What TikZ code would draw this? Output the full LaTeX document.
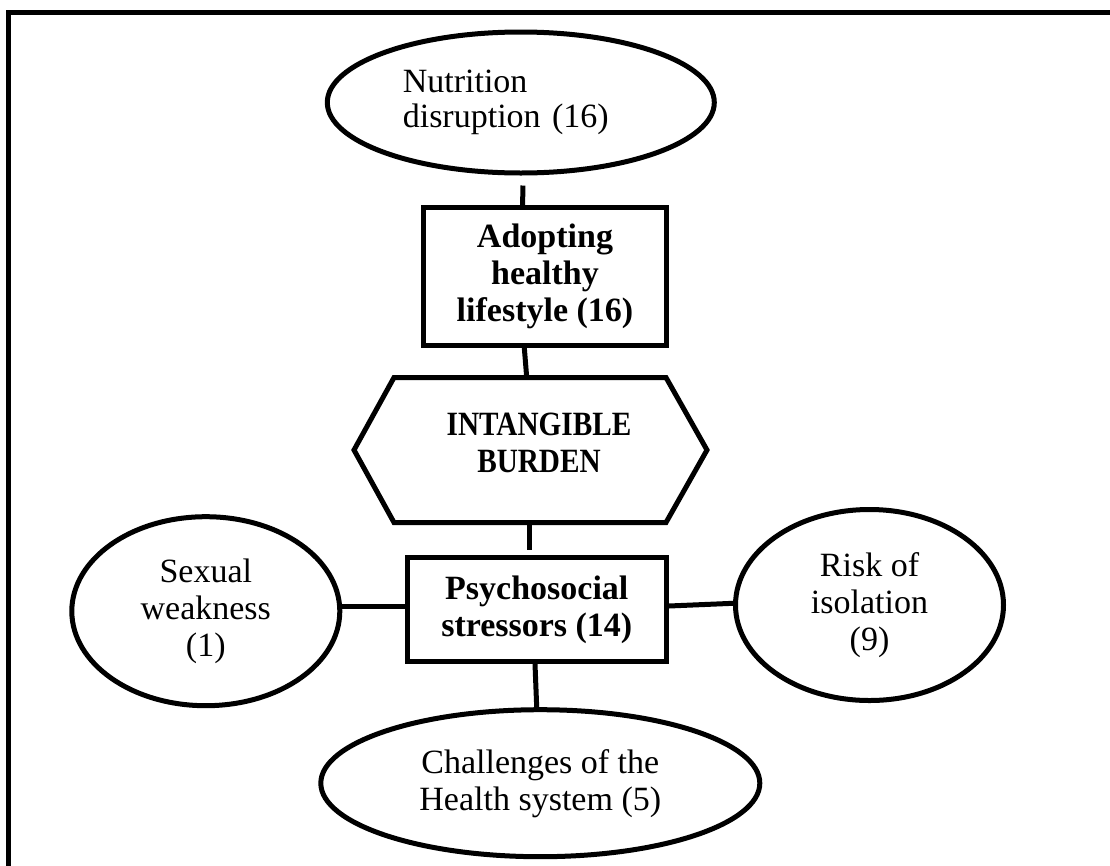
\documentclass[tikz,border=0pt]{standalone}
\usepackage{fontspec}
\setmainfont{Liberation Serif}
\newfontfamily\hexfont[FakeStretch=0.86]{Liberation Serif}
\usetikzlibrary{shapes.geometric,calc}
\begin{document}
\begin{tikzpicture}[x=1pt,y=1pt,
  every node/.style={font=\fontsize{34}{37}\selectfont, align=center, inner sep=0pt},
  oval/.style={ellipse, draw, line width=5pt},
  boxnode/.style={rectangle, draw, line width=5pt, font=\fontsize{34}{37}\selectfont\bfseries},
  hexbox/.style={rectangle, minimum width=353pt, minimum height=145pt},
  link/.style={line width=5pt},
  frame/.style={line width=5pt}]
\useasboundingbox (0,0) rectangle (1110,-865);
\draw[frame] (1116,-12.5) -- (8,-12.5) -- (8,-871);

\node[oval, minimum width=387pt, minimum height=141pt, text width=236pt, align=left,
      font=\fontsize{34}{35}\selectfont] (nut) at (520.8,-102.5) {Nutrition\\disruption (16)};
\node[boxnode, minimum width=243pt, minimum height=138pt] (box1) at (545,-276.3) {Adopting\\healthy\\lifestyle (16)};
\node[hexbox] (hex) at (530,-450) {};
\draw[line width=5pt, line join=miter] (394,-377.5) -- (666,-377.5) -- (707,-450) -- (666,-522.5) -- (394,-522.5) -- (354,-450) -- cycle;
\node[font=\fontsize{34}{37}\hexfont\bfseries] (hextext) at (539,-443) {INTANGIBLE\\BURDEN};
\node[boxnode, minimum width=259pt, minimum height=104pt] (psy) at (536.8,-609.5) {Psychosocial\\stressors (14)};
\node[oval, minimum width=268pt, minimum height=189pt] (sex) at (205.8,-611.2) {Sexual\\weakness\\(1)};
\node[oval, minimum width=268pt, minimum height=191pt] (risk) at (869.5,-605) {Risk of\\isolation\\(9)};
\node[oval, minimum width=439pt, minimum height=147pt] (chal) at (540.3,-783.2) {Challenges of the\\Health system (5)};

\draw[link] ($(nut.south)+(2,-10)$) -- ($(box1.north)+(-22.3,0)$);
\draw[link] ($(box1.south)+(-20.7,0)$) -- ($(hex.north)+(-3.3,0)$);
\draw[link] ($(hex.south)+(-1,0)$) -- ($(psy.north)+(-7.8,5.5)$);
\draw[link] ($(psy.south)+(-1.8,0)$) -- ($(chal.north)+(-3.6,0)$);
\draw[link] ($(sex.east)+(0,5.2)$) -- ($(psy.west)+(0,3.5)$);
\draw[link] ($(psy.east)+(0,3.5)$) -- ($(risk.west)+(0,1.7)$);
\end{tikzpicture}
\end{document}
